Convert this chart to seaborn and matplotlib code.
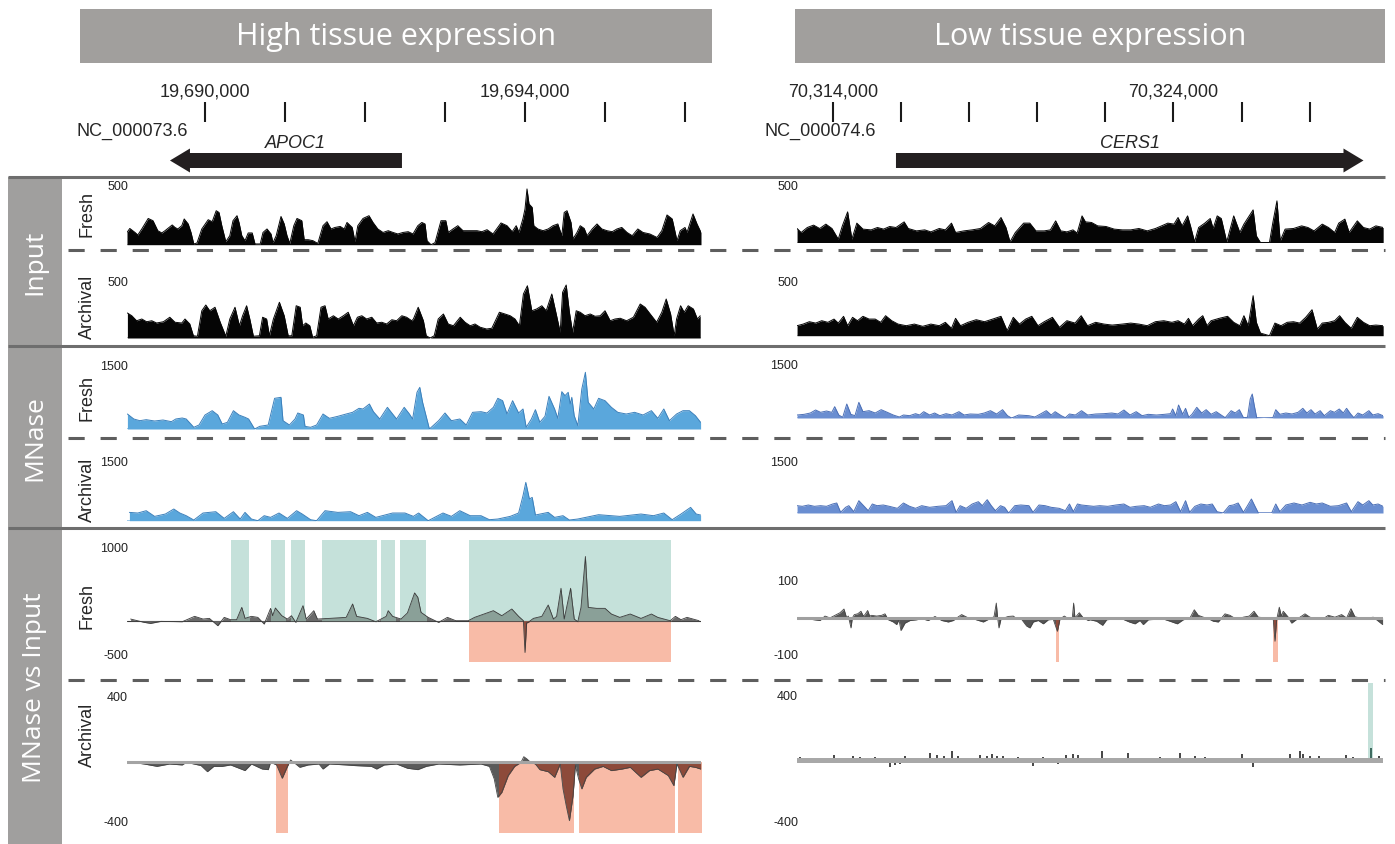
import numpy as np
import matplotlib
matplotlib.use("Agg")
import matplotlib.pyplot as plt
from matplotlib.patches import Rectangle, Polygon
import seaborn as sns

sns.set_theme(style="white")
plt.rcParams["font.family"] = ["Liberation Sans", "DejaVu Sans"]

# ------------------------------------------------------------------ data
# genomic positions are bp relative to the first labelled ruler tick
LEFT_CHROM, RIGHT_CHROM = "NC_000073.6", "NC_000074.6"
LEFT_ORIGIN, RIGHT_ORIGIN = 19_690_000, 70_314_000
left_view = (-975, 6200)
right_view = (-1057, 16155)
left_ticks = [0, 1000, 2000, 3000, 4000, 5000, 6000]
left_labelled_ticks = [0, 4000]
right_ticks = [0, 2000, 4000, 6000, 8000, 10000, 12000, 14000]
right_labelled_ticks = [0, 10000]
# gene: name, body start, tip, label position
left_gene = ("APOC1", 2462, -438, 1125)
right_gene = ("CERS1", 1850, 15582, 8723)

left_input_fresh = [(-975,98),(-940,130),(-875,98),(-840,78),(-790,126),(-710,210),(-650,192),(-590,112),(-540,94),(-500,112),(-410,158),(-375,138),(-340,126),(-290,152),(-260,206),(-210,166),(-175,98),(-140,6),(-100,14),(-40,126),(40,200),(90,184),(140,272),(175,258),(210,152),(260,24),(310,72),(350,192),(400,232),(425,178),(460,72),(500,32),(540,94),(590,94),(625,6),(690,6),(725,98),(775,126),(825,86),(850,16),(890,72),(950,226),(990,166),(1025,72),(1060,10),(1110,152),(1150,210),(1210,192),(1240,40),(1290,40),(1350,32),(1410,10),(1475,152),(1525,184),(1575,126),(1625,138),(1690,146),(1740,126),(1775,178),(1840,138),(1875,24),(1910,152),(1975,210),(2050,232),(2100,178),(2160,126),(2225,98),(2290,112),(2350,98),(2410,86),(2475,98),(2540,104),(2600,86),(2660,152),(2710,178),(2750,166),(2775,32),(2825,0),(2875,16),(2950,192),(3010,192),(3040,98),(3100,126),(3160,152),(3225,112),(3310,112),(3400,112),(3460,104),(3525,120),(3600,86),(3700,174),(3775,152),(3840,104),(3890,152),(3925,98),(3975,210),(4000,286),(4025,446),(4050,326),(4090,298),(4110,152),(4160,126),(4225,112),(4290,126),(4350,152),(4410,166),(4460,72),(4490,258),(4525,272),(4575,178),(4600,46),(4650,98),(4690,152),(4740,130),(4775,72),(4840,126),(4900,166),(4960,126),(5025,112),(5090,104),(5150,126),(5210,138),(5275,98),(5340,72),(5410,126),(5475,98),(5560,86),(5650,58),(5710,112),(5775,238),(5840,206),(5900,32),(5940,112),(6000,138),(6025,98),(6100,246),(6150,166),(6200,98)]

left_input_archival = [(-970,200),(-915,178),(-855,138),(-790,152),(-730,130),(-665,138),(-605,120),(-520,130),(-440,166),(-375,126),(-290,120),(-250,152),(-190,112),(-145,18),(-95,14),(-40,218),(10,264),(60,218),(125,246),(190,126),(260,14),(310,152),(375,246),(430,98),(470,178),(520,258),(560,152),(605,14),(680,18),(720,166),(770,152),(805,18),(855,152),(930,286),(990,178),(1040,18),(1085,18),(1140,258),(1190,246),(1220,98),(1260,120),(1310,98),(1345,6),(1395,18),(1450,246),(1500,258),(1540,152),(1605,178),(1665,152),(1730,178),(1790,206),(1855,98),(1905,166),(1960,178),(2020,152),(2085,166),(2145,120),(2210,126),(2270,112),(2335,146),(2395,138),(2460,178),(2520,166),(2585,138),(2605,152),(2665,246),(2730,138),(2765,18),(2815,0),(2865,18),(2915,152),(2980,192),(3040,112),(3105,98),(3190,166),(3250,126),(3315,98),(3375,112),(3440,86),(3520,72),(3585,78),(3680,206),(3750,192),(3815,178),(3875,152),(3930,98),(3980,352),(4030,418),(4085,218),(4145,232),(4210,258),(4265,218),(4335,352),(4395,178),(4440,46),(4470,366),(4515,424),(4555,206),(4595,46),(4640,218),(4690,206),(4750,178),(4815,192),(4875,174),(4940,178),(5000,218),(5065,138),(5125,152),(5190,158),(5270,138),(5355,166),(5440,272),(5500,246),(5565,192),(5645,126),(5710,206),(5765,312),(5820,192),(5865,18),(5895,152),(5945,258),(5990,206),(6040,258),(6105,232),(6155,152),(6190,178)]

left_mnase_fresh = [(-970,375),(-890,250),(-815,208),(-735,233),(-630,200),(-525,225),(-420,183),(-365,250),(-285,275),(-235,250),(-140,42),(-75,100),(0,350),(90,458),(160,350),(215,125),(280,167),(355,458),(425,350),(500,292),(545,250),(620,0),(685,67),(790,100),(870,767),(950,792),(975,208),(1055,100),(1125,250),(1160,400),(1230,350),(1250,67),(1320,42),(1395,100),(1475,375),(1555,267),(1660,317),(1765,375),(1845,417),(1925,517),(1975,500),(2055,625),(2105,433),(2185,250),(2280,542),(2345,375),(2395,250),(2490,542),(2555,375),(2595,250),(2650,917),(2685,1042),(2720,667),(2805,0),(2920,208),(3000,400),(3080,208),(3185,250),(3265,100),(3345,417),(3450,433),(3525,400),(3605,542),(3660,767),(3720,708),(3775,375),(3845,708),(3920,400),(3975,500),(4015,42),(4080,250),(4130,483),(4185,167),(4250,317),(4300,817),(4370,500),(4410,267),(4460,933),(4500,833),(4540,917),(4565,625),(4585,792),(4615,333),(4660,83),(4710,1000),(4755,1417),(4790,667),(4860,500),(4920,767),(5000,708),(5080,542),(5160,417),(5265,375),(5370,417),(5475,350),(5580,458),(5660,267),(5735,500),(5805,208),(5895,375),(5975,458),(6055,458),(6130,333),(6195,167)]

left_mnase_archival = [(-945,208),(-840,192),(-735,250),(-630,108),(-495,167),(-390,292),(-315,192),(-235,125),(-140,17),(-25,192),(135,225),(240,58),(355,225),(440,42),(500,208),(580,42),(660,0),(740,125),(820,83),(925,192),(1030,58),(1145,250),(1215,167),(1320,25),(1395,0),(1500,250),(1660,208),(1820,225),(1925,125),(2030,208),(2135,83),(2345,192),(2500,192),(2605,108),(2670,192),(2790,0),(2975,192),(3080,108),(3185,250),(3315,125),(3450,125),(3555,25),(3660,42),(3815,108),(3920,192),(3975,625),(4010,958),(4055,542),(4090,583),(4130,142),(4290,208),(4370,83),(4475,125),(4555,17),(4660,42),(4920,150),(5185,108),(5450,167),(5605,125),(5735,192),(5840,25),(5950,167),(6070,333),(6140,167),(6195,142)]

left_diff_fresh = [(-930,23),(-760,-23),(-680,-37),(-550,-9),(-285,-14),(-130,60),(-25,23),(55,32),(160,-69),(240,46),(320,14),(395,14),(460,184),(500,32),(580,60),(660,46),(740,-46),(820,170),(845,69),(880,175),(925,115),(960,69),(1030,23),(1080,69),(1135,-23),(1225,207),(1265,23),(1360,138),(1405,23),(1555,32),(1765,46),(1845,230),(1895,60),(2030,32),(2135,-14),(2265,60),(2290,138),(2345,60),(2450,23),(2530,106),(2620,382),(2660,322),(2700,115),(2790,46),(2920,-23),(3030,46),(3135,0),(3290,0),(3370,46),(3605,138),(3710,69),(3835,161),(3920,60),(3980,0),(4000,-437),(4020,-30),(4040,-23),(4105,32),(4210,60),(4290,216),(4355,23),(4395,60),(4450,446),(4490,23),(4570,446),(4615,23),(4660,-14),(4700,184),(4755,883),(4790,184),(4895,170),(5000,170),(5080,92),(5185,46),(5315,92),(5450,32),(5580,92),(5660,46),(5815,0),(5880,60),(5950,14),(6025,46),(6175,0)]
left_diff_fresh_gain = [(320,555),(820,1000),(1070,1250),(1460,2145),(2195,2370),(2440,2765),(3300,5830)]
left_diff_fresh_loss = [(3300,5830)]

left_diff_archival = [(-920,0),(-760,-11),(-600,-26),(-445,-11),(-285,-17),(-235,0),(-50,-21),(30,-60),(110,-26),(215,-26),(320,-17),(395,-32),(500,-53),(580,-11),(715,-43),(790,-47),(820,0),(895,-17),(965,-102),(1030,-26),(1070,15),(1135,-11),(1185,-32),(1290,-17),(1425,-11),(1475,-43),(1555,-11),(1765,-17),(1870,-21),(2080,-26),(2145,-43),(2240,-17),(2395,-11),(2530,-38),(2660,-47),(2765,-26),(2920,-11),(3185,-17),(3450,-11),(3555,-26),(3615,-106),(3660,-224),(3710,-192),(3790,-85),(3870,-26),(3950,0),(3985,36),(4025,21),(4070,0),(4130,-11),(4185,-47),(4290,-60),(4370,-96),(4440,-11),(4475,-170),(4515,-277),(4555,-373),(4600,-213),(4630,-21),(4670,-106),(4710,-170),(4765,-96),(4870,-43),(4975,-26),(5080,-53),(5210,-43),(5315,-32),(5450,-96),(5555,-53),(5660,-43),(5790,-85),(5860,-149),(5900,-11),(5975,-96),(6055,-26),(6130,-32),(6195,-43)]
left_diff_archival_gain = []
left_diff_archival_loss = [(885,1040),(3670,4610),(4670,5870),(5910,6210)]

right_input_fresh = [(-1055,112),(-935,80),(-755,120),(-570,139),(-390,112),(-210,147),(-30,112),(155,27),(275,133),(430,245),(555,27),(700,155),(880,107),(1120,101),(1305,120),(1485,107),(1665,128),(1850,120),(2090,165),(2210,112),(2450,93),(2695,101),(2875,85),(3120,112),(3300,101),(3480,155),(3600,80),(3845,93),(4085,101),(4330,112),(4570,160),(4750,133),(4935,200),(5080,120),(5200,5),(5355,80),(5600,155),(5780,155),(5960,93),(6205,93),(6385,101),(6540,173),(6690,93),(6870,85),(7050,101),(7170,75),(7315,213),(7415,165),(7595,160),(7775,133),(8020,128),(8260,107),(8500,101),(8745,101),(8985,112),(9230,93),(9470,112),(9650,133),(9835,155),(10015,147),(10135,200),(10255,133),(10415,213),(10500,133),(10620,5),(10740,120),(10920,155),(11080,192),(11165,112),(11285,213),(11405,192),(11565,5),(11770,213),(11950,80),(12070,147),(12195,200),(12340,261),(12435,53),(12555,0),(12820,0),(12920,160),(13040,333),(13135,13),(13280,107),(13525,112),(13765,133),(13950,120),(14130,93),(14370,147),(14555,120),(14735,80),(14855,155),(15035,187),(15160,80),(15400,173),(15580,120),(15765,107),(15945,133),(16160,120)]

right_input_archival = [(-1055,80),(-875,93),(-695,112),(-510,101),(-330,120),(-150,107),(30,133),(155,101),(310,155),(430,80),(575,147),(720,120),(880,155),(1060,133),(1240,133),(1400,107),(1545,160),(1725,120),(1910,93),(2150,80),(2390,93),(2635,75),(2875,93),(3120,80),(3300,107),(3480,59),(3600,139),(3745,80),(3965,107),(4205,128),(4450,112),(4690,133),(4935,155),(5115,40),(5295,147),(5475,93),(5660,133),(5840,155),(6020,80),(6205,112),(6445,147),(6650,67),(6870,120),(7110,101),(7290,160),(7475,80),(7715,107),(7960,93),(8200,85),(8500,93),(8745,101),(8985,93),(9230,80),(9470,112),(9715,120),(9955,107),(10135,120),(10320,93),(10440,139),(10560,80),(10740,133),(10860,160),(10985,80),(11105,120),(11345,139),(11590,155),(11770,107),(11950,80),(12070,160),(12195,80),(12340,320),(12435,107),(12555,21),(12820,0),(12980,101),(13160,80),(13340,107),(13525,112),(13705,101),(13885,147),(14070,208),(14225,53),(14370,101),(14555,107),(14735,120),(14880,160),(15035,107),(15220,59),(15400,147),(15580,107),(15765,80),(15945,85),(16160,80)]

right_mnase_fresh = [(-1055,75),(-845,92),(-665,125),(-510,200),(-365,142),(-190,175),(-35,142),(50,283),(170,75),(285,17),(405,350),(525,92),(645,58),(760,392),(880,158),(1060,183),(1240,125),(1415,208),(1595,142),(1770,75),(1950,25),(2070,75),(2250,58),(2425,108),(2545,75),(2665,158),(2840,75),(2985,125),(3140,58),(3320,108),(3495,75),(3700,158),(3850,75),(4030,100),(4270,92),(4445,125),(4625,183),(4805,100),(4980,208),(5125,58),(5245,0),(5455,75),(5755,58),(5930,25),(6110,108),(6265,183),(6410,75),(6525,158),(6705,58),(6825,8),(6945,100),(7120,75),(7300,183),(7480,75),(7715,100),(7955,108),(8190,125),(8370,100),(8545,200),(8725,75),(8905,158),(9080,58),(9260,92),(9500,75),(9735,92),(9915,108),(9975,225),(10070,58),(10150,325),(10270,92),(10355,242),(10450,17),(10545,92),(10685,267),(10830,125),(10960,208),(11105,92),(11255,158),(11400,75),(11520,8),(11695,183),(11815,125),(11935,208),(12055,8),(12175,17),(12255,475),(12315,600),(12375,308),(12445,8),(12650,0),(12920,8),(13005,208),(13125,92),(13300,125),(13480,100),(13660,142),(13800,242),(13920,125),(14040,208),(14160,100),(14310,183),(14430,58),(14610,183),(14730,142),(14870,225),(14990,125),(15085,242),(15205,100),(15300,8),(15420,125),(15560,75),(15740,183),(15855,75),(16010,108),(16155,58)]

right_mnase_archival = [(-1055,183),(-900,167),(-725,200),(-545,167),(-365,183),(-190,167),(-10,225),(110,250),(225,17),(370,142),(465,183),(610,33),(760,308),(915,167),(1035,58),(1155,225),(1295,183),(1475,200),(1655,167),(1890,117),(2070,250),(2250,167),(2425,117),(2605,183),(2840,142),(3080,167),(3320,183),(3495,308),(3615,17),(3735,183),(3910,117),(4090,225),(4270,283),(4385,183),(4530,333),(4650,183),(4770,58),(4920,183),(5040,142),(5160,0),(5340,183),(5515,200),(5755,183),(5875,17),(6050,200),(6230,183),(6410,142),(6645,117),(6825,58),(6945,225),(7060,33),(7180,225),(7300,200),(7480,183),(7655,167),(7835,183),(8070,167),(8310,200),(8545,225),(8725,142),(8905,167),(9140,183),(9320,142),(9560,225),(9735,183),(9915,200),(10070,283),(10210,33),(10355,308),(10475,17),(10630,167),(10805,225),(10985,200),(11140,225),(11280,33),(11460,0),(11640,183),(11755,200),(11900,250),(12055,17),(12175,183),(12290,350),(12410,142),(12495,0),(12885,0),(13005,225),(13125,33),(13300,200),(13540,250),(13775,200),(14015,267),(14195,225),(14370,250),(14610,167),(14845,183),(15085,250),(15225,33),(15420,283),(15560,200),(15740,308),(15855,200),(16010,225),(16155,167)]

right_diff_fresh = [(-1018,0),(-724,-3),(-382,-7),(-235,5),(-88,0),(59,7),(206,14),(323,24),(401,0),(450,5),(529,-27),(568,0),(627,9),(725,11),(822,18),(891,5),(940,9),(1018,20),(1077,5),(1136,7),(1283,5),(1429,7),(1527,11),(1625,-5),(1772,-11),(1870,-18),(1938,-5),(1997,-34),(2115,-14),(2262,-7),(2457,-5),(2604,-2),(2800,-7),(2996,4),(3192,-7),(3387,-11),(3534,-7),(3681,3),(3779,9),(3975,0),(4171,-4),(4415,-11),(4562,-4),(4729,3),(4797,40),(4836,0),(4875,-27),(4934,-3),(5150,4),(5296,5),(5394,-2),(5541,-4),(5688,-22),(5786,-27),(5884,-11),(6031,-7),(6178,-16),(6324,-5),(6471,-4),(6589,-36),(6667,-3),(6794,5),(6912,-2),(7029,0),(7068,40),(7107,0),(7235,14),(7352,0),(7499,-7),(7548,-5),(7744,-9),(7920,-20),(8038,-5),(8331,-2),(8527,-4),(8703,-11),(8870,-16),(9017,-7),(9114,-18),(9261,-5),(9457,-4),(9604,0),(9898,-9),(10113,-16),(10289,-5),(10485,0),(10612,22),(10730,7),(10877,2),(11023,-2),(11170,-9),(11317,-11),(11513,11),(11660,7),(11856,-4),(12051,2),(12228,5),(12365,18),(12492,2),(12737,0),(12933,-5),(12981,-63),(13030,-5),(13109,29),(13168,5),(13226,18),(13373,2),(13471,-14),(13618,-4),(13863,11),(14009,2),(14205,-2),(14401,-2),(14548,7),(14744,2),(14939,9),(15086,0),(15214,25),(15331,3),(15576,-2),(15870,2),(16143,-18)]
right_diff_fresh_gain = []
right_diff_fresh_loss = [(6540,6638),(12913,13079)]

right_diff_archival = [(-969,19),(-578,11),(-186,11),(39,32),(157,-23),(597,26),(793,19),(940,-17),(1234,15),(1674,-45),(1821,-32),(1968,-28),(2115,26),(2457,-17),(2849,40),(3045,32),(3270,26),(3505,58),(3681,26),(3975,11),(4317,32),(4513,26),(4660,36),(4807,26),(5003,26),(5443,19),(5884,-38),(6178,19),(6618,-28),(6833,32),(7059,36),(7206,32),(7303,-23),(7499,11),(7891,58),(8674,40),(9604,19),(10113,-17),(10191,40),(10632,26),(10926,15),(11464,-17),(12002,36),(12326,-49),(13030,11),(13422,36),(13716,58),(13814,36),(14009,26),(14284,26),(14548,-17),(15067,32),(15282,15),(15478,-23),(15801,75),(16046,26)]
right_diff_archival_gain = [(15723,15870)]
right_diff_archival_loss = []

# ------------------------------------------------------------------ style
W, H = 1395, 845
GREY_BOX = "#a19f9d"
SEP = "#6e6e6e"
DASH = "#5e5e5e"
GAIN, LOSS = "#c5e1da", "#f8bba7"
NARROW = ["Liberation Sans Narrow", "Liberation Sans", "DejaVu Sans"]
HEAD = ["Open Sans", "DejaVu Sans"]

fig = plt.figure(figsize=(W / 100, H / 100), dpi=100)
fig.patch.set_facecolor("white")
bg = fig.add_axes([0, 0, 1, 1])
bg.set_xlim(0, W)
bg.set_ylim(H, 0)
bg.axis("off")


def box_axes(x0, x1, top, bottom):
    ax = fig.add_axes([x0 / W, 1 - bottom / H, (x1 - x0) / W, (bottom - top) / H])
    ax.set_facecolor("none")
    return ax


def finish(ax, view, ylim):
    ax.set_xlim(*view)
    ax.set_ylim(*ylim)
    ax.axis("off")


def area_track(ax, track, view, ylim, fill, edge, base_color, base_lw, lw=0.7):
    pos, val = np.array(track, dtype=float).T
    ax.axhline(0, color=base_color, lw=base_lw, zorder=1)
    ax.fill_between(pos, 0, val, color=fill, lw=0, zorder=2)
    sns.lineplot(x=pos, y=val, ax=ax, color=edge, lw=lw, estimator=None,
                 sort=False, legend=False, zorder=3)
    finish(ax, view, ylim)
    return pos, val


def shade(ax, gains, losses, ylim):
    for s, e in gains:
        ax.fill_between([s, e], 0, ylim[1], color=GAIN, lw=0, zorder=0.5)
    for s, e in losses:
        ax.fill_between([s, e], ylim[0], 0, color=LOSS, lw=0, zorder=0.5)


def recolor(ax, pos, val, regions, color, y0, y1):
    for s, e in regions:
        coll = ax.fill_between(pos, 0, val, color=color, lw=0, zorder=2.5)
        coll.set_clip_path(Rectangle((s, y0), e - s, y1 - y0,
                                     transform=ax.transData))


def diff_area(ax, track, gains, losses, view, ylim, base_color, base_lw,
              fill, edge, gain_fill, loss_fill, base_on_top=False):
    shade(ax, gains, losses, ylim)
    pos, val = np.array(track, dtype=float).T
    ax.fill_between(pos, 0, val, color=fill, lw=0, zorder=2)
    recolor(ax, pos, val, gains, gain_fill, 0, ylim[1])
    recolor(ax, pos, val, losses, loss_fill, ylim[0], 0)
    sns.lineplot(x=pos, y=val, ax=ax, color=edge, lw=0.6, estimator=None,
                 sort=False, legend=False, zorder=3)
    ax.axhline(0, color=base_color, lw=base_lw, zorder=4 if base_on_top else 1)
    finish(ax, view, ylim)


def diff_bars(ax, track, gains, losses, view, ylim, base_color, base_lw, width):
    shade(ax, gains, losses, ylim)
    pos, val = np.array(track, dtype=float).T
    colors = []
    for p in pos:
        if any(s <= p <= e for s, e in losses):
            colors.append("#8e4b3c")
        elif any(s <= p <= e for s, e in gains):
            colors.append("#3f6b60")
        else:
            colors.append("#4a4a4a")
    ax.axhline(0, color=base_color, lw=base_lw, zorder=4)
    ax.bar(pos, val, width=width, color=colors, lw=0, zorder=3)
    finish(ax, view, ylim)


# ------------------------------------------------------------------ frame
bg.add_patch(Rectangle((80, 10), 632, 54, color=GREY_BOX, lw=0))
bg.add_patch(Rectangle((795, 10), 590, 54, color=GREY_BOX, lw=0))
bg.text(396, 37, "High tissue expression", color="white", fontsize=22,
        family=HEAD, ha="center", va="center")
bg.text(1090, 37, "Low tissue expression", color="white", fontsize=22,
        family=HEAD, ha="center", va="center")

bg.add_patch(Rectangle((8, 178), 54, 667, color="#a09f9e", lw=0))
for label, yc in [("Input", 262), ("MNase", 438), ("MNase vs Input", 688)]:
    bg.text(35, yc, label, color="white", fontsize=19, family=HEAD,
            rotation=90, ha="center", va="center")
for y in (178, 347, 529):
    bg.plot([8, 1385], [y, y], color=SEP, lw=2.2, solid_capstyle="butt")
for y in (251, 438.5, 681):
    bg.plot([68, 1385], [y, y], color=DASH, lw=2.2, dashes=(5.3, 5.2),
            dash_capstyle="butt")

for label, yc in [("Fresh", 214), ("Archival", 307), ("Fresh", 398),
                  ("Archival", 490), ("Fresh", 606), ("Archival", 735)]:
    bg.text(87, yc, label, fontsize=13, rotation=90, ha="center", va="center")

scale_labels = [
    ("500", 128, 187), ("500", 128, 283), ("1500", 128, 367), ("1500", 128, 463),
    ("1000", 128, 549), ("-500", 128, 656), ("400", 128, 698), ("-400", 128, 823),
    ("500", 798, 187), ("500", 798, 283), ("1500", 798, 366), ("1500", 798, 463),
    ("100", 798, 582), ("-100", 798, 656), ("400", 798, 697), ("-400", 798, 823),
]
for txt, x, y in scale_labels:
    bg.text(x, y, txt, fontsize=9, family=NARROW, ha="right", va="center",
            color="#222222")

bg.text(188, 131, LEFT_CHROM, fontsize=13, ha="right", va="center")
bg.text(876, 131, RIGHT_CHROM, fontsize=13, ha="right", va="center")


# ------------------------------------------------------------------ rulers
def ruler(x0, x1, view, origin, ticks, labelled, gene):
    ax = box_axes(x0, x1, 80, 176)
    ax.set_xlim(*view)
    ax.set_ylim(176, 80)
    ax.axis("off")
    ax.vlines(ticks, 103, 123, color="#1a1a1a", lw=1.5)
    for t in labelled:
        ax.text(t, 92, f"{origin + t:,}", fontsize=13, ha="center", va="center")
    name, start, tip, label_pos = gene
    bp_per_px = (view[1] - view[0]) / (x1 - x0)
    head = 20 * bp_per_px * np.sign(tip - start)
    base = tip - head
    pts = [(start, 154), (base, 154), (base, 149.5), (tip, 161.5),
           (base, 173.5), (base, 169), (start, 169)]
    ax.add_patch(Polygon(pts, closed=True, color="#231f20", lw=0, clip_on=False))
    ax.text(label_pos, 143, name, fontsize=13, style="italic", ha="center",
            va="center")


ruler(127, 701, left_view, LEFT_ORIGIN, left_ticks, left_labelled_ticks, left_gene)
ruler(797, 1383, right_view, RIGHT_ORIGIN, right_ticks, right_labelled_ticks, right_gene)

# ------------------------------------------------------------------ tracks
LX0, LX1, RX0, RX1 = 127, 701, 797, 1383
INPUT_Y = (0, 500)
MNASE_Y = (0, 1500)

area_track(box_axes(LX0, LX1, 183.2, 245.7), left_input_fresh, left_view, INPUT_Y,
           "#050505", "#050505", "#bdbdbd", 1.5)
area_track(box_axes(LX0, LX1, 276.5, 339), left_input_archival, left_view, INPUT_Y,
           "#050505", "#050505", "#bdbdbd", 1.5)
area_track(box_axes(RX0, RX1, 181, 243.5), right_input_fresh, right_view, INPUT_Y,
           "#050505", "#050505", "#bdbdbd", 1.5)
area_track(box_axes(RX0, RX1, 274.2, 336.7), right_input_archival, right_view, INPUT_Y,
           "#050505", "#050505", "#bdbdbd", 1.5)

area_track(box_axes(LX0, LX1, 370, 430), left_mnase_fresh, left_view, MNASE_Y,
           "#5aa7dc", "#3c80bb", "#8cc0e6", 1.2)
area_track(box_axes(LX0, LX1, 461.7, 521.7), left_mnase_archival, left_view, MNASE_Y,
           "#5aa7dc", "#3c80bb", "#8cc0e6", 1.2)
area_track(box_axes(RX0, RX1, 359, 419), right_mnase_fresh, right_view, MNASE_Y,
           "#6a8ed1", "#4b6fb6", "#a9bde6", 1.2)
area_track(box_axes(RX0, RX1, 454, 514), right_mnase_archival, right_view, MNASE_Y,
           "#6a8ed1", "#4b6fb6", "#a9bde6", 1.2)

diff_area(box_axes(LX0, LX1, 541, 663), left_diff_fresh, left_diff_fresh_gain,
          left_diff_fresh_loss, left_view, (-568, 1110), "#3a3a3a", 0.8,
          "#6a6a6a", "#3a3a3a", "#8aa098", "#8e4b3c")
diff_area(box_axes(LX0, LX1, 684, 834), left_diff_archival, left_diff_archival_gain,
          left_diff_archival_loss, left_view, (-452, 507), "#a4a4a4", 2.2,
          "#5a5a5a", "#444444", "#8aa098", "#8d4a3a", base_on_top=True)
diff_area(box_axes(RX0, RX1, 560, 663), right_diff_fresh, right_diff_fresh_gain,
          right_diff_fresh_loss, right_view, (-119, 159), "#a0a0a0", 2.2,
          "#555555", "#444444", "#3f6b60", "#8e4b3c", base_on_top=True)
diff_bars(box_axes(RX0, RX1, 684, 834), right_diff_archival, right_diff_archival_gain,
          right_diff_archival_loss, right_view, (-469, 491), "#a8a8a8", 3.6, 60)

fig.savefig("out.png", dpi=100, facecolor="white")
